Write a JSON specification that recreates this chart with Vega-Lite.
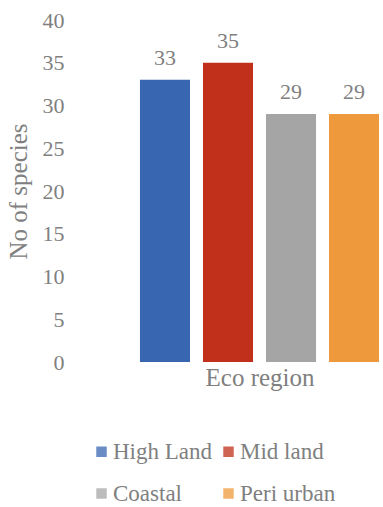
{
  "$schema": "https://vega.github.io/schema/vega-lite/v6.json",
  "autosize": "none",
  "width": 247,
  "height": 342,
  "padding": {"left": 136, "top": 20, "right": 0, "bottom": 145},
  "background": "white",
  "config": {
    "view": {"stroke": null},
    "font": "Liberation Serif",
    "text": {"font": "Liberation Serif"}
  },
  "data": {
    "values": [
      {"region": "High Land", "species": 33},
      {"region": "Mid land", "species": 35},
      {"region": "Coastal", "species": 29},
      {"region": "Peri urban", "species": 29}
    ]
  },
  "encoding": {
    "x": {
      "field": "region",
      "type": "nominal",
      "sort": null,
      "scale": {"paddingInner": 0.206, "paddingOuter": 0.063},
      "axis": {
        "title": "Eco region",
        "labels": false,
        "ticks": false,
        "domain": false,
        "titleFont": "Liberation Serif",
        "titleFontSize": 25,
        "titleFontWeight": "normal",
        "titleColor": "#808080",
        "titlePadding": 3
      }
    },
    "y": {
      "field": "species",
      "type": "quantitative",
      "scale": {"domain": [0, 40], "nice": false},
      "axis": {
        "title": "No of species",
        "values": [0, 5, 10, 15, 20, 25, 30, 35, 40],
        "grid": false,
        "domain": false,
        "ticks": false,
        "labelPadding": 72,
        "labelFont": "Liberation Serif",
        "labelFontSize": 22,
        "labelColor": "#808080",
        "titleFont": "Liberation Serif",
        "titleFontSize": 25,
        "titleFontWeight": "normal",
        "titleColor": "#808080",
        "titleX": -118,
        "titleY": 171,
        "titleAngle": -90,
        "titleBaseline": "middle",
        "titleAlign": "center"
      }
    }
  },
  "layer": [
    {
      "mark": {"type": "bar"},
      "encoding": {
        "color": {
          "field": "region",
          "type": "nominal",
          "sort": null,
          "scale": {
            "domain": ["High Land", "Mid land", "Coastal", "Peri urban"],
            "range": ["#3866b0", "#c0301a", "#a5a5a5", "#ee9a3c"]
          },
          "legend": {
            "title": null,
            "orient": "none",
            "direction": "horizontal",
            "legendX": -46,
            "legendY": 420,
            "columns": 2,
            "columnPadding": 4,
            "rowPadding": 18,
            "symbolType": "square",
            "symbolSize": 110,
            "symbolStrokeWidth": 0,
            "symbolOpacity": 0.75,
            "labelFont": "Liberation Serif",
            "labelFontSize": 23,
            "labelColor": "#808080",
            "labelOffset": 0,
            "labelLimit": 300
          }
        }
      }
    },
    {
      "mark": {"type": "text", "baseline": "alphabetic", "dy": -15, "fontSize": 22, "color": "#808080", "font": "Liberation Serif"},
      "encoding": {
        "text": {"field": "species", "type": "quantitative"}
      }
    }
  ]
}
